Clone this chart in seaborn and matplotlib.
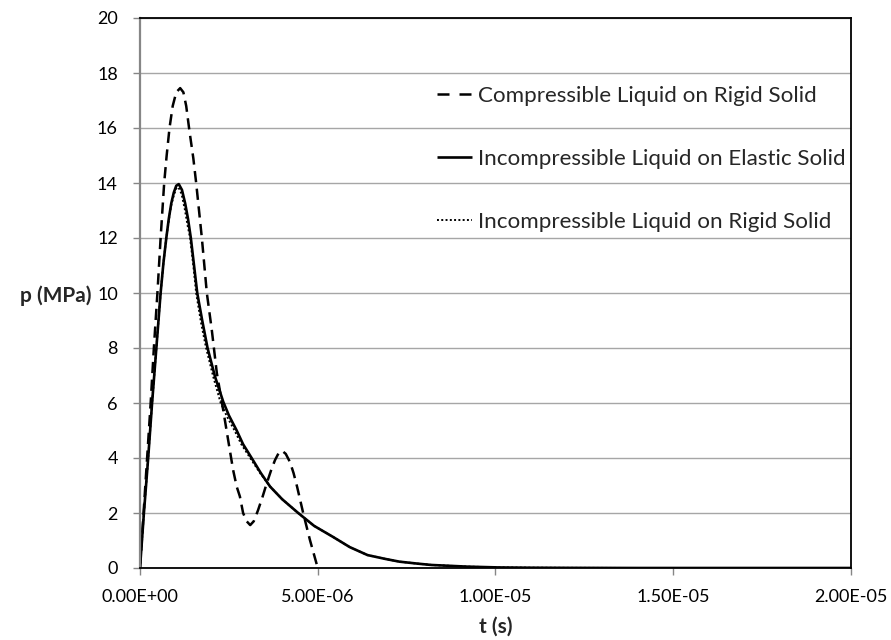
import numpy as np
import pandas as pd
import matplotlib
matplotlib.use("Agg")
import matplotlib.pyplot as plt
import seaborn as sns
from matplotlib.ticker import FuncFormatter

# ---------------- data (time in microseconds, pressure in MPa) ----------------
t_comp_us = [0, 0.1, 0.2, 0.3, 0.39, 0.49, 0.58, 0.68, 0.75, 0.83, 0.92, 1.02, 1.13,
             1.22, 1.3, 1.39, 1.5, 1.58, 1.74, 1.88, 2.02, 2.16, 2.34, 2.48, 2.62,
             2.72, 2.81, 2.9, 3.0, 3.1, 3.2, 3.32, 3.45, 3.57, 3.7, 3.8, 3.9, 4.0,
             4.1, 4.22, 4.32, 4.42, 4.59, 4.78, 5.0]
p_comp = [0, 2.0, 4.0, 6.0, 8.0, 10.0, 12.0, 14.0, 15.0, 16.0, 16.8, 17.3, 17.45,
          17.3, 16.8, 15.9, 14.9, 14.0, 12.0, 10.0, 8.65, 7.1, 5.75, 4.65, 3.56,
          2.96, 2.6, 2.0, 1.7, 1.56, 1.7, 2.1, 2.6, 3.1, 3.6, 3.93, 4.18, 4.26,
          4.15, 3.85, 3.45, 2.95, 2.0, 1.02, 0]

t_elastic_us = [0, 0.11, 0.23, 0.34, 0.46, 0.58, 0.66, 0.74, 0.81, 0.88, 0.95, 1.02,
                1.09, 1.18, 1.27, 1.35, 1.43, 1.52, 1.61, 1.75, 1.9, 2.11, 2.34,
                2.5, 2.72, 2.9, 3.14, 3.4, 3.66, 4.0, 4.45, 4.9, 5.43, 5.9, 6.4,
                6.9, 7.3, 7.8, 8.2, 8.7, 9.2, 10.1, 11.0, 12.0, 14.0, 17.0, 20.0]
p_elastic = [0, 2.0, 4.0, 6.0, 8.0, 10.0, 11.1, 12.0, 12.7, 13.26, 13.65, 13.9,
             13.96, 13.75, 13.26, 12.7, 12.0, 11.0, 10.0, 9.0, 8.0, 6.96, 6.05,
             5.55, 5.0, 4.5, 4.0, 3.45, 2.96, 2.5, 2.0, 1.53, 1.13, 0.76, 0.47,
             0.33, 0.23, 0.16, 0.11, 0.08, 0.05, 0.02, 0.01, 0.005, 0.0, 0.0, 0.0]

t_rigid_us = [0, 0.11, 0.23, 0.34, 0.46, 0.58, 0.66, 0.74, 0.81, 0.88, 0.95, 1.02,
              1.08, 1.17, 1.26, 1.34, 1.41, 1.5, 1.58, 1.72, 1.86, 2.06, 2.27,
              2.45, 2.66, 2.85, 3.1, 3.38, 3.66, 4.0, 4.45, 4.9, 5.43, 5.9, 6.4,
              6.9, 7.3, 7.8, 8.2, 8.7, 9.2, 10.1, 11.0, 12.0, 14.0, 17.0, 20.0]
p_rigid = [0, 2.0, 4.0, 6.0, 8.0, 10.0, 11.1, 12.0, 12.65, 13.2, 13.55, 13.8,
           13.85, 13.6, 13.05, 12.45, 12.0, 11.0, 10.0, 8.9, 8.0, 6.96, 6.0,
           5.5, 5.0, 4.5, 4.0, 3.45, 2.96, 2.5, 2.0, 1.53, 1.13, 0.76, 0.47,
           0.33, 0.23, 0.16, 0.11, 0.08, 0.05, 0.02, 0.01, 0.005, 0.0, 0.0, 0.0]

labels = ["Compressible Liquid on Rigid Solid",
          "Incompressible Liquid on Elastic Solid",
          "Incompressible Liquid on Rigid Solid"]

x_ticks = [0, 5e-6, 1e-5, 1.5e-5, 2e-5]
y_ticks = list(range(0, 21, 2))

# ---------------- build table ----------------
frames = []
for tt, pp, lab in [(t_comp_us, p_comp, labels[0]),
                    (t_elastic_us, p_elastic, labels[1]),
                    (t_rigid_us, p_rigid, labels[2])]:
    frames.append(pd.DataFrame({"t": np.array(tt) * 1e-6, "p": pp, "case": lab}))
df = pd.concat(frames, ignore_index=True)

# ---------------- style ----------------
sns.set_style("white")
plt.rcParams["font.family"] = ["Lato", "DejaVu Sans"]

fig = plt.figure(figsize=(8.91, 6.40), dpi=100)
ax = fig.add_axes([140 / 891, 1 - 568 / 640, 711 / 891, 550 / 640])

styles = {
    labels[0]: dict(dashes=(4.5, 2.6), lw=1.8, leg_dashes=(4.8, 4.0)),
    labels[1]: dict(dashes=None, lw=1.9, leg_dashes=None),
    labels[2]: dict(dashes=(1, 1.2), lw=1.4, leg_dashes=(1, 1.2)),
}
for lab in labels:
    sub = df[df["case"] == lab]
    st = styles[lab]
    sns.lineplot(data=sub, x="t", y="p", ax=ax, color="black", lw=st["lw"],
                 label=lab, sort=False, estimator=None)
    ln = ax.get_lines()[-1]
    if st["dashes"] is not None:
        ln.set_dashes(st["dashes"])
    ln.set_solid_capstyle("butt")
    ln.set_dash_capstyle("butt")

ax.set_xlim(0, 2e-5)
ax.set_ylim(0, 20)
ax.set_xticks(x_ticks)
ax.set_yticks(y_ticks)
ax.xaxis.set_major_formatter(FuncFormatter(lambda v, pos: f"{v:.2E}"))

ax.yaxis.grid(True, color="#a6a6a6", lw=1.0)
ax.xaxis.grid(False)
ax.set_axisbelow(True)

for side in ["top", "right", "bottom"]:
    ax.spines[side].set_color("black")
    ax.spines[side].set_linewidth(1.3)
ax.spines["left"].set_color("#868686")
ax.spines["left"].set_linewidth(1.6)

ax.tick_params(axis="y", direction="out", length=5, width=1, color="#868686",
               pad=11, labelsize=13, labelcolor="black", left=True)
ax.tick_params(axis="x", direction="out", length=5, width=1, color="#868686",
               pad=10, labelsize=13, labelcolor="black", bottom=True)

ax.set_xlabel("t (s)", fontsize=15, fontweight="bold", va="center")
ax.xaxis.set_label_coords(0.5, -(627 - 568) / 550)
ax.set_ylabel("p (MPa)", fontsize=15, fontweight="bold", rotation=0,
              ha="right", va="center")
ax.yaxis.set_label_coords((91 - 140) / 711, (568 - 296) / 550)

leg = ax.legend(loc="upper left", bbox_to_anchor=((437 - 140) / 711, (568 - 86) / 550),
                frameon=False, fontsize=16.1, handlelength=1.58, handletextpad=0.25,
                labelspacing=1.92, borderaxespad=0, borderpad=0)
for hl, lab in zip(leg.get_lines(), labels):
    st = styles[lab]
    hl.set_linewidth(st["lw"])
    if st["leg_dashes"] is not None:
        hl.set_dashes(st["leg_dashes"])
    hl.set_solid_capstyle("butt")
    hl.set_dash_capstyle("butt")

fig.savefig("out.png", dpi=100)
